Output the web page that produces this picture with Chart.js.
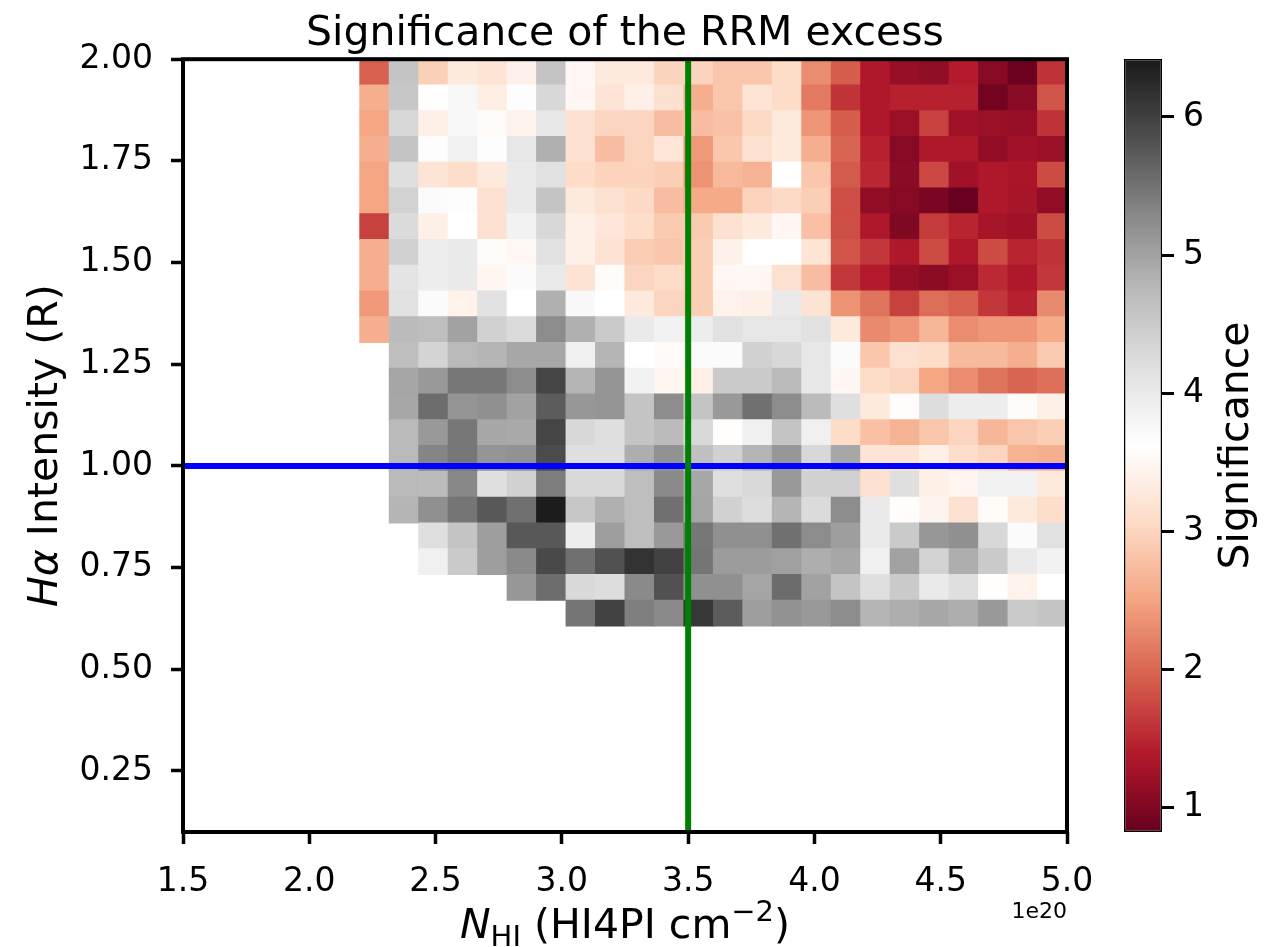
<!DOCTYPE html>
<html><head><meta charset="utf-8">
<script src="https://cdn.jsdelivr.net/npm/chart.js@4.4.0/dist/chart.umd.min.js"></script>
<style>
html,body{margin:0;padding:0;background:#fff;}
#wrap{position:relative;width:1279px;height:947px;overflow:hidden;background:#fff;}
#main{position:absolute;left:0;top:0;width:1100px;height:947px;}
#cbar{position:absolute;left:1100px;top:0;width:179px;height:947px;}
</style></head><body>
<div id="wrap"><canvas id="main" width="1100" height="947"></canvas><canvas id="cbar" width="179" height="947"></canvas></div>
<script>
const FONT = "'DejaVu Sans', sans-serif";

// N_HI bin edges (1e20 cm^-2)
const xBinEdges = [2.2000, 2.3167, 2.4333, 2.5500, 2.6667, 2.7833, 2.9000, 3.0167, 3.1333, 3.2500,
  3.3667, 3.4833, 3.6000, 3.7167, 3.8333, 3.9500, 4.0667, 4.1833, 4.3000, 4.4167,
  4.5333, 4.6500, 4.7667, 4.8833, 5.0000];
// H-alpha bin edges (R), from top to bottom
const yBinEdges = [2.0000, 1.9367, 1.8733, 1.8100, 1.7467, 1.6833, 1.6200, 1.5567, 1.4933, 1.4300,
  1.3667, 1.3033, 1.2400, 1.1767, 1.1133, 1.0500, 0.9867, 0.9233, 0.8600, 0.7967,
  0.7333, 0.6700, 0.6067];

// significance per cell, rows from top (2.0 R) to bottom, columns left to right
const significance = [
  [1.95,4.60,2.95,3.28,3.20,3.40,4.60,3.50,3.28,3.28,2.98,2.98,2.85,2.85,3.07,2.30,1.92,1.36,1.17,1.12,1.40,1.06,0.86,1.58],
  [2.60,4.55,3.60,3.75,3.35,3.65,4.30,3.50,3.20,3.38,3.15,2.60,2.85,3.20,3.07,2.15,1.60,1.36,1.45,1.45,1.45,0.90,1.08,1.85],
  [2.50,4.30,3.38,3.75,3.55,3.42,4.05,3.15,3.00,3.00,2.75,2.75,2.80,3.05,3.28,2.38,1.92,1.36,1.20,1.70,1.25,1.20,1.17,1.58],
  [2.60,4.60,3.65,3.85,3.65,4.08,4.85,3.15,2.75,3.00,3.22,2.40,2.85,3.15,3.28,2.60,1.98,1.45,1.06,1.36,1.36,1.13,1.25,1.20],
  [2.50,4.20,3.20,3.10,3.28,4.00,4.17,3.07,2.98,2.98,2.92,2.35,2.70,2.65,3.62,2.85,1.90,1.50,1.08,1.75,1.25,1.36,1.32,1.78],
  [2.50,4.38,3.70,3.65,3.15,4.00,4.60,3.28,3.15,3.05,2.75,2.55,2.55,2.98,3.05,2.92,1.80,1.13,1.06,0.97,0.83,1.36,1.30,1.13],
  [1.70,4.25,3.38,3.62,3.15,3.85,4.30,3.38,3.25,3.10,2.88,2.88,3.15,3.28,3.50,2.78,1.80,1.36,1.00,1.65,1.48,1.30,1.25,1.78],
  [2.60,4.40,3.95,4.00,3.55,3.50,4.17,3.38,3.18,2.90,2.83,2.92,3.40,3.62,3.62,3.20,1.85,1.63,1.36,1.78,1.36,1.78,1.48,1.58],
  [2.60,4.10,3.95,4.00,3.48,3.70,4.00,3.18,3.55,3.00,3.07,2.92,3.50,3.50,3.15,2.75,1.63,1.40,1.17,1.10,1.20,1.52,1.36,1.63],
  [2.40,4.17,3.70,3.42,4.15,3.62,4.85,3.75,3.62,3.28,3.00,2.92,3.42,3.38,4.00,3.18,2.35,2.10,1.70,2.05,1.95,1.63,1.45,2.28],
  [2.60,4.73,4.68,5.00,4.40,4.25,5.25,4.85,4.50,4.00,3.85,3.95,4.17,4.08,4.08,4.17,3.28,2.28,2.38,2.68,2.30,2.38,2.38,2.55],
  [null,4.68,4.35,4.75,4.80,4.95,4.95,3.90,4.80,3.62,3.55,3.70,3.70,4.40,4.30,4.05,3.70,2.85,3.15,3.07,2.72,2.72,2.60,2.88],
  [null,4.97,5.10,5.45,5.45,5.25,5.95,4.80,5.15,3.85,3.48,3.38,4.50,4.50,4.72,4.05,3.50,3.07,3.00,2.50,2.30,2.10,1.98,2.07],
  [null,4.95,5.55,5.15,5.20,5.00,5.72,5.12,5.15,4.60,5.25,4.60,5.10,5.52,5.25,4.73,4.20,3.28,3.58,4.22,3.95,3.95,3.55,3.38],
  [null,4.75,5.10,5.45,4.95,4.93,5.95,4.30,4.20,4.60,4.73,4.28,3.60,3.90,4.60,3.90,3.07,2.78,2.65,2.83,3.00,2.68,2.83,2.92],
  [null,4.75,5.32,5.45,5.15,5.18,5.88,4.20,4.20,4.87,5.18,4.65,4.40,4.80,5.12,4.30,4.95,3.20,3.20,3.38,3.10,3.00,2.65,2.60],
  [null,4.75,4.73,5.30,4.20,4.40,5.40,4.28,4.28,4.68,5.27,4.95,4.20,4.28,5.10,4.40,4.40,3.15,4.20,3.38,3.48,3.85,3.85,3.28],
  [null,4.80,5.20,5.47,5.75,5.52,6.40,4.55,4.85,4.68,5.52,4.97,4.40,4.22,4.80,4.25,5.25,4.00,3.58,3.45,3.15,3.55,3.28,3.10],
  [null,null,4.20,4.60,5.05,5.75,5.75,3.95,5.05,4.68,5.10,5.45,5.20,5.20,5.52,5.25,5.05,4.00,4.50,5.12,5.20,4.30,3.70,4.17],
  [null,null,3.90,4.50,5.05,5.27,5.90,5.52,5.82,6.15,5.98,5.47,5.07,5.07,5.03,4.87,4.95,3.90,5.00,4.38,4.87,4.50,4.00,3.85],
  [null,null,null,null,null,5.12,5.55,4.28,4.22,5.27,5.82,5.20,5.20,4.97,5.56,5.00,4.60,4.20,4.50,4.00,4.20,3.60,3.42,3.62],
  [null,null,null,null,null,null,null,5.47,5.98,5.38,5.27,6.10,5.72,5.05,5.18,5.10,5.25,4.80,4.87,4.95,4.87,5.10,4.50,4.60]
];

const xTicks = [1.5, 2.0, 2.5, 3.0, 3.5, 4.0, 4.5, 5.0];
const yTicks = [0.25, 0.50, 0.75, 1.00, 1.25, 1.50, 1.75, 2.00];
const cbarTicks = [1, 2, 3, 4, 5, 6];
const xRange = [1.5, 5.0];
const yRange = [0.1, 2.0];
const sigRange = [0.82, 6.42];
const refHalpha = [1.0];
const refNHI = [3.5];
const rdgy = ['#67001f','#b2182b','#d6604d','#f4a582','#fddbc7','#ffffff','#e0e0e0','#bababa','#878787','#4d4d4d','#1a1a1a'];

function hexRgb(h){return [parseInt(h.substr(1,2),16),parseInt(h.substr(3,2),16),parseInt(h.substr(5,2),16)];}
const rdgyRgb = rdgy.map(hexRgb);
function cmap(v){
  let t=(v-sigRange[0])/(sigRange[1]-sigRange[0]);
  t=Math.max(0,Math.min(1,t))*(rdgy.length-1);
  const i=Math.min(rdgy.length-2,Math.floor(t)), f=t-i;
  const a=rdgyRgb[i], b=rdgyRgb[i+1];
  const c=a.map((x,k)=>Math.round(x+(b[k]-x)*f));
  return 'rgb('+c.join(',')+')';
}

const cells=[];
significance.forEach((row,r)=>row.forEach((v,c)=>{
  if(v===null) return;
  cells.push({x:(xBinEdges[c]+xBinEdges[c+1])/2, y:[yBinEdges[r+1],yBinEdges[r]], v:v});
}));

function drawRuns(c, runs, cx, baseY){
  c.save(); c.fillStyle='#000'; c.textBaseline='alphabetic'; c.textAlign='left';
  let total=0;
  runs.forEach(r=>{c.font=r.font; r.w=c.measureText(r.text).width; total+=r.w;});
  let x=cx-total/2;
  runs.forEach(r=>{c.font=r.font; c.fillText(r.text,x,baseY+(r.dy||0)); x+=r.w;});
  c.restore();
}

const mainTexts = {
  id:'mainTexts',
  afterDraw(chart){
    const c=chart.ctx, a=chart.chartArea;
    c.save(); c.strokeStyle='#000'; c.lineWidth=4;
    c.strokeRect(a.left,a.top,a.right-a.left,a.bottom-a.top); c.restore();
    drawRuns(c,[
      {text:'N',font:'italic 41px '+FONT},
      {text:'HI',font:'29px '+FONT,dy:8},
      {text:' (HI4PI cm',font:'41px '+FONT},
      {text:'\u22122',font:'29px '+FONT,dy:-17},
      {text:')',font:'41px '+FONT}
    ],(a.left+a.right)/2,938);
    c.save(); c.translate(57,(a.top+a.bottom)/2); c.rotate(-Math.PI/2);
    drawRuns(c,[
      {text:'H\u03b1',font:'italic 41px '+FONT},
      {text:' Intensity (R)',font:'41px '+FONT}
    ],0,0);
    c.restore();
    c.save(); c.font='22px '+FONT; c.fillStyle='#000'; c.textAlign='right'; c.textBaseline='alphabetic';
    c.fillText('1e20',a.right,918); c.restore();
  }
};

const tickGrid = {display:true, drawOnChartArea:false, drawTicks:true, tickLength:12, tickWidth:3.5, tickColor:'#000', offset:false};

new Chart(document.getElementById('main'),{
  type:'bar',
  data:{datasets:[
    {type:'line', label:'NHI cut', data:[{x:refNHI[0],y:yRange[0]},{x:refNHI[0],y:yRange[1]}], borderColor:'#008000', borderWidth:6, pointRadius:0, fill:false, tension:0},
    {type:'line', label:'Halpha cut', data:[{x:xRange[0],y:refHalpha[0]},{x:xRange[1],y:refHalpha[0]}], borderColor:'#0000ff', borderWidth:6, pointRadius:0, fill:false, tension:0},
    {type:'bar', label:'Significance', data:cells,
     backgroundColor:ctx=>ctx.raw?cmap(ctx.raw.v):'#fff',
     borderWidth:0, barPercentage:1, categoryPercentage:1, inflateAmount:0.5, grouped:false}
  ]},
  options:{
    responsive:false, animation:false, events:[],
    layout:{padding:{left:0,right:33,top:0,bottom:0}},
    plugins:{
      legend:{display:false}, tooltip:{enabled:false},
      title:{display:true, text:'Significance of the RRM excess', color:'#000', fullSize:false,
        font:{family:FONT,size:41,weight:'normal',lineHeight:1.2}, padding:{top:10,bottom:0}}
    },
    scales:{
      x:{type:'linear', min:xRange[0], max:xRange[1], offset:false,
        afterBuildTicks:s=>{s.ticks=xTicks.map(v=>({value:v}));},
        afterFit:s=>{s.height=115; s.paddingLeft=0; s.paddingRight=0;},
        ticks:{callback:v=>Number(v).toFixed(1), font:{family:FONT,size:33}, color:'#000', maxRotation:0, minRotation:0, autoSkip:false, padding:19},
        grid:tickGrid, border:{display:false}},
      y:{type:'linear', min:yRange[0], max:yRange[1], beginAtZero:false,
        afterBuildTicks:s=>{s.ticks=yTicks.map(v=>({value:v}));},
        afterFit:s=>{s.width=183; s.paddingTop=0; s.paddingBottom=0;},
        ticks:{callback:v=>Number(v).toFixed(2), font:{family:FONT,size:33}, color:'#000', padding:18},
        grid:tickGrid, border:{display:false}}
    }
  },
  plugins:[mainTexts]
});

const cbarTexts = {
  id:'cbarTexts',
  afterDraw(chart){
    const c=chart.ctx, a=chart.chartArea;
    c.save(); c.translate(148,(a.top+a.bottom)/2); c.rotate(-Math.PI/2);
    drawRuns(c,[{text:'Significance',font:'41px '+FONT}],0,0);
    c.restore();
  }
};

new Chart(document.getElementById('cbar'),{
  type:'bar',
  data:{labels:['Significance'], datasets:[{
    data:[[sigRange[0],sigRange[1]]],
    backgroundColor:ctx=>{
      const ch=ctx.chart, ys=ch.scales.y;
      if(!ch.chartArea||!ys) return '#888';
      const g=ch.ctx.createLinearGradient(0,ys.getPixelForValue(sigRange[0]),0,ys.getPixelForValue(sigRange[1]));
      rdgy.forEach((col,i)=>g.addColorStop(i/(rdgy.length-1),col));
      return g;
    },
    borderColor:'#000', borderWidth:1.5, borderSkipped:false, barPercentage:1, categoryPercentage:1, inflateAmount:0
  }]},
  options:{
    responsive:false, animation:false, events:[],
    layout:{padding:{left:24,top:59,bottom:115,right:0}},
    plugins:{legend:{display:false}, tooltip:{enabled:false}},
    scales:{
      x:{display:false},
      y:{position:'right', min:sigRange[0], max:sigRange[1], beginAtZero:false,
        afterBuildTicks:s=>{s.ticks=cbarTicks.map(v=>({value:v}));},
        afterFit:s=>{s.width=117;},
        ticks:{callback:v=>String(v), font:{family:FONT,size:33}, color:'#000', padding:9},
        grid:{display:true, drawOnChartArea:false, drawTicks:true, tickLength:12, tickWidth:3, tickColor:'#000'},
        border:{display:false}}
    }
  },
  plugins:[cbarTexts]
});
</script></body></html>
